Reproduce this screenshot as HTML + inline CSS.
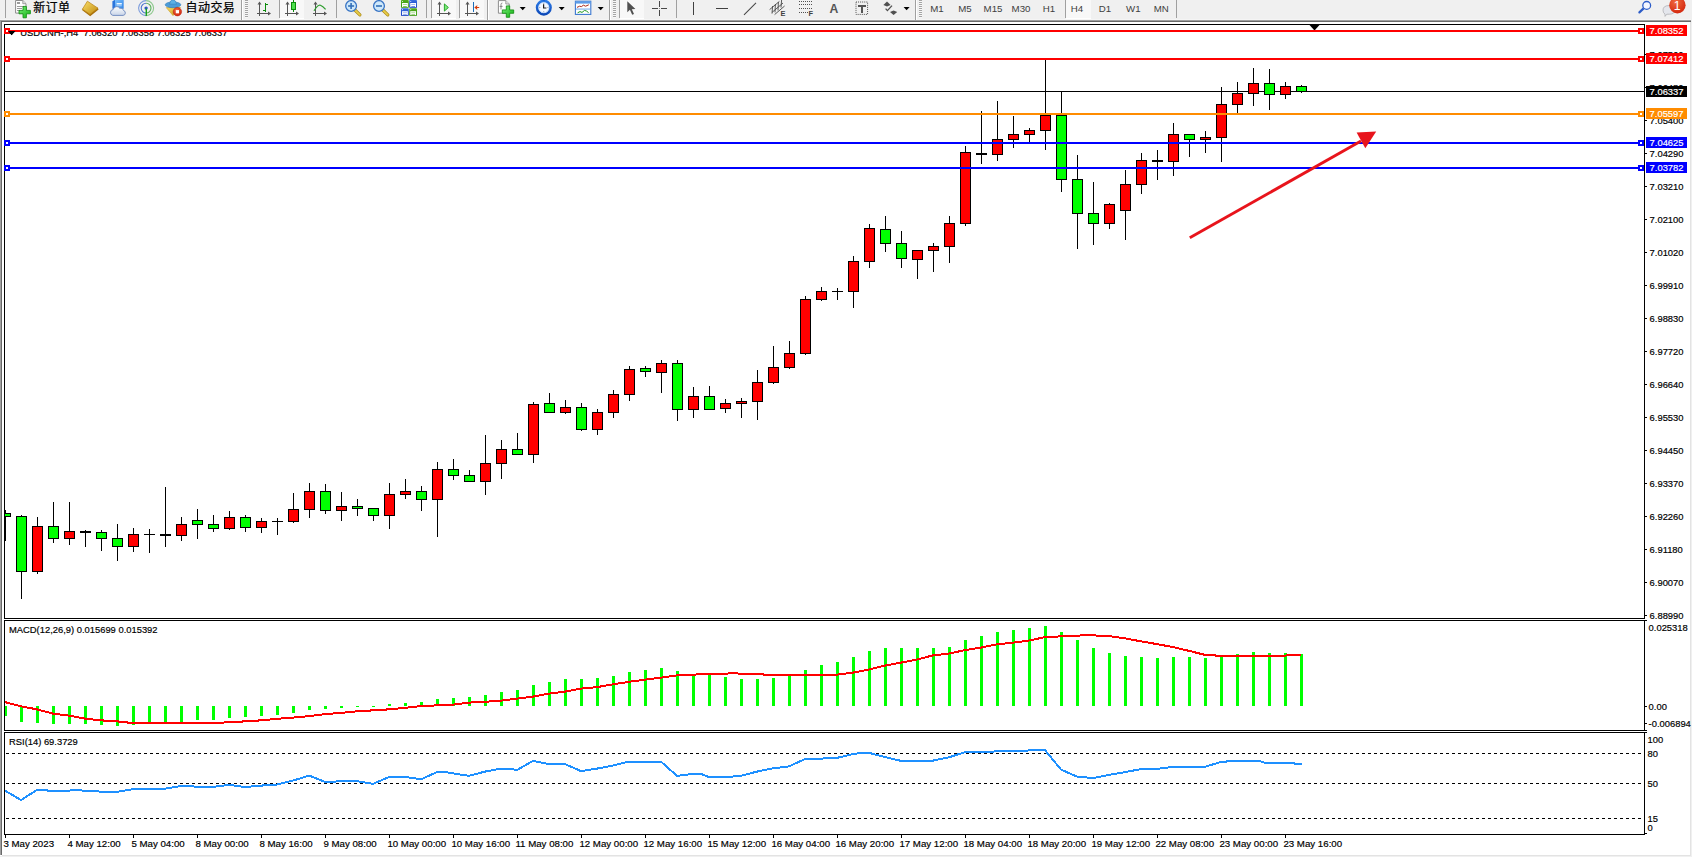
<!DOCTYPE html>
<html><head><meta charset="utf-8"><title>USDCNH-,H4</title>
<style>html,body{margin:0;padding:0;background:#fff;overflow:hidden}body{width:1692px;height:857px;position:relative}svg{position:absolute;left:0;top:0;display:block}text{font-family:'Liberation Sans','Noto Sans CJK SC',sans-serif;}.ax{font-size:9.4px;fill:#000;stroke:#000;stroke-width:0.18px}.lb{font-size:9.4px;fill:#fff;stroke:#fff;stroke-width:0.18px}.dt{font-size:9.7px;fill:#000;stroke:#000;stroke-width:0.18px}.tf{font-size:9.7px;fill:#404040}.cj{font-size:12px;fill:#000;letter-spacing:0.4px;stroke:#000;stroke-width:0.22px}</style></head><body>
<svg width="1692" height="857" viewBox="0 0 1692 857">
<g shape-rendering="crispEdges">
<rect x="0" y="0" width="1692" height="857" fill="#FFFFFF"/>
<rect x="0" y="0" width="1692" height="20" fill="#F0F0F0"/>
<rect x="0" y="19" width="1691" height="1" fill="#F5F5F5"/>
<rect x="0" y="20" width="1691" height="1" fill="#A0A0A0"/>
<rect x="0" y="21" width="1691" height="1" fill="#696969"/>
<rect x="0" y="21" width="1" height="834" fill="#A0A0A0"/>
<rect x="1" y="22" width="1" height="833" fill="#696969"/>
<rect x="1690" y="22" width="1" height="834" fill="#E3E3E3"/>
<rect x="1691" y="0" width="1" height="857" fill="#F0F0F0"/>
<rect x="2" y="855" width="1689" height="1" fill="#E3E3E3"/>
<rect x="0" y="856" width="1692" height="1" fill="#F0F0F0"/>
<rect x="4" y="24" width="1641" height="1" fill="#000"/>
<rect x="4" y="24" width="1" height="811" fill="#000"/>
<rect x="1644" y="24" width="1" height="811" fill="#000"/>
<rect x="4" y="618" width="1641" height="1" fill="#000"/>
<rect x="4" y="619" width="1641" height="1" fill="#FFF"/>
<rect x="4" y="620" width="1641" height="1" fill="#000"/>
<rect x="4" y="730" width="1641" height="1" fill="#000"/>
<rect x="4" y="731" width="1641" height="1" fill="#FFF"/>
<rect x="4" y="732" width="1641" height="1" fill="#000"/>
<rect x="4" y="834" width="1641" height="1" fill="#000"/>
</g>
<defs><clipPath id="cm"><rect x="5" y="25" width="1639" height="593"/></clipPath><clipPath id="cd"><rect x="5" y="621" width="1639" height="109"/></clipPath><clipPath id="cr"><rect x="5" y="733" width="1639" height="101"/></clipPath></defs>
<g shape-rendering="crispEdges" clip-path="url(#cm)">
<rect x="5" y="91" width="1639" height="1" fill="#000"/>
<polygon points="8,31 15,31 11.5,35" fill="#000"/>
<rect x="5" y="510" width="1" height="31" fill="#000"/>
<rect x="0" y="513" width="11" height="4" fill="#000"/>
<rect x="1" y="514" width="9" height="2" fill="#00FF00"/>
<rect x="21" y="515" width="1" height="84" fill="#000"/>
<rect x="16" y="516" width="11" height="56" fill="#000"/>
<rect x="17" y="517" width="9" height="54" fill="#00FF00"/>
<rect x="37" y="517" width="1" height="57" fill="#000"/>
<rect x="32" y="526" width="11" height="46" fill="#000"/>
<rect x="33" y="527" width="9" height="44" fill="#FF0000"/>
<rect x="53" y="502" width="1" height="41" fill="#000"/>
<rect x="48" y="526" width="11" height="13" fill="#000"/>
<rect x="49" y="527" width="9" height="11" fill="#00FF00"/>
<rect x="69" y="502" width="1" height="43" fill="#000"/>
<rect x="64" y="531" width="11" height="8" fill="#000"/>
<rect x="65" y="532" width="9" height="6" fill="#FF0000"/>
<rect x="85" y="530" width="1" height="17" fill="#000"/>
<rect x="80" y="531" width="11" height="2" fill="#000"/>
<rect x="101" y="530" width="1" height="21" fill="#000"/>
<rect x="96" y="532" width="11" height="7" fill="#000"/>
<rect x="97" y="533" width="9" height="5" fill="#00FF00"/>
<rect x="117" y="524" width="1" height="37" fill="#000"/>
<rect x="112" y="538" width="11" height="9" fill="#000"/>
<rect x="113" y="539" width="9" height="7" fill="#00FF00"/>
<rect x="133" y="528" width="1" height="24" fill="#000"/>
<rect x="128" y="534" width="11" height="13" fill="#000"/>
<rect x="129" y="535" width="9" height="11" fill="#FF0000"/>
<rect x="149" y="529" width="1" height="24" fill="#000"/>
<rect x="144" y="534" width="11" height="1" fill="#000"/>
<rect x="165" y="487" width="1" height="60" fill="#000"/>
<rect x="160" y="534" width="11" height="2" fill="#000"/>
<rect x="181" y="517" width="1" height="24" fill="#000"/>
<rect x="176" y="524" width="11" height="12" fill="#000"/>
<rect x="177" y="525" width="9" height="10" fill="#FF0000"/>
<rect x="197" y="509" width="1" height="30" fill="#000"/>
<rect x="192" y="520" width="11" height="5" fill="#000"/>
<rect x="193" y="521" width="9" height="3" fill="#00FF00"/>
<rect x="213" y="515" width="1" height="17" fill="#000"/>
<rect x="208" y="524" width="11" height="5" fill="#000"/>
<rect x="209" y="525" width="9" height="3" fill="#00FF00"/>
<rect x="229" y="511" width="1" height="19" fill="#000"/>
<rect x="224" y="517" width="11" height="12" fill="#000"/>
<rect x="225" y="518" width="9" height="10" fill="#FF0000"/>
<rect x="245" y="515" width="1" height="17" fill="#000"/>
<rect x="240" y="517" width="11" height="11" fill="#000"/>
<rect x="241" y="518" width="9" height="9" fill="#00FF00"/>
<rect x="261" y="518" width="1" height="15" fill="#000"/>
<rect x="256" y="521" width="11" height="7" fill="#000"/>
<rect x="257" y="522" width="9" height="5" fill="#FF0000"/>
<rect x="277" y="518" width="1" height="17" fill="#000"/>
<rect x="272" y="521" width="11" height="1" fill="#000"/>
<rect x="293" y="493" width="1" height="30" fill="#000"/>
<rect x="288" y="509" width="11" height="13" fill="#000"/>
<rect x="289" y="510" width="9" height="11" fill="#FF0000"/>
<rect x="309" y="483" width="1" height="35" fill="#000"/>
<rect x="304" y="491" width="11" height="19" fill="#000"/>
<rect x="305" y="492" width="9" height="17" fill="#FF0000"/>
<rect x="325" y="484" width="1" height="30" fill="#000"/>
<rect x="320" y="491" width="11" height="20" fill="#000"/>
<rect x="321" y="492" width="9" height="18" fill="#00FF00"/>
<rect x="341" y="492" width="1" height="29" fill="#000"/>
<rect x="336" y="506" width="11" height="5" fill="#000"/>
<rect x="337" y="507" width="9" height="3" fill="#FF0000"/>
<rect x="357" y="499" width="1" height="17" fill="#000"/>
<rect x="352" y="506" width="11" height="3" fill="#000"/>
<rect x="353" y="507" width="9" height="1" fill="#00FF00"/>
<rect x="373" y="508" width="1" height="13" fill="#000"/>
<rect x="368" y="508" width="11" height="8" fill="#000"/>
<rect x="369" y="509" width="9" height="6" fill="#00FF00"/>
<rect x="389" y="483" width="1" height="46" fill="#000"/>
<rect x="384" y="494" width="11" height="22" fill="#000"/>
<rect x="385" y="495" width="9" height="20" fill="#FF0000"/>
<rect x="405" y="479" width="1" height="20" fill="#000"/>
<rect x="400" y="491" width="11" height="4" fill="#000"/>
<rect x="401" y="492" width="9" height="2" fill="#FF0000"/>
<rect x="421" y="486" width="1" height="25" fill="#000"/>
<rect x="416" y="491" width="11" height="9" fill="#000"/>
<rect x="417" y="492" width="9" height="7" fill="#00FF00"/>
<rect x="437" y="462" width="1" height="75" fill="#000"/>
<rect x="432" y="469" width="11" height="31" fill="#000"/>
<rect x="433" y="470" width="9" height="29" fill="#FF0000"/>
<rect x="453" y="459" width="1" height="21" fill="#000"/>
<rect x="448" y="469" width="11" height="7" fill="#000"/>
<rect x="449" y="470" width="9" height="5" fill="#00FF00"/>
<rect x="469" y="470" width="1" height="12" fill="#000"/>
<rect x="464" y="475" width="11" height="7" fill="#000"/>
<rect x="465" y="476" width="9" height="5" fill="#00FF00"/>
<rect x="485" y="435" width="1" height="60" fill="#000"/>
<rect x="480" y="463" width="11" height="19" fill="#000"/>
<rect x="481" y="464" width="9" height="17" fill="#FF0000"/>
<rect x="501" y="440" width="1" height="39" fill="#000"/>
<rect x="496" y="449" width="11" height="15" fill="#000"/>
<rect x="497" y="450" width="9" height="13" fill="#FF0000"/>
<rect x="517" y="433" width="1" height="22" fill="#000"/>
<rect x="512" y="449" width="11" height="6" fill="#000"/>
<rect x="513" y="450" width="9" height="4" fill="#00FF00"/>
<rect x="533" y="402" width="1" height="61" fill="#000"/>
<rect x="528" y="404" width="11" height="51" fill="#000"/>
<rect x="529" y="405" width="9" height="49" fill="#FF0000"/>
<rect x="549" y="393" width="1" height="20" fill="#000"/>
<rect x="544" y="403" width="11" height="10" fill="#000"/>
<rect x="545" y="404" width="9" height="8" fill="#00FF00"/>
<rect x="565" y="400" width="1" height="14" fill="#000"/>
<rect x="560" y="407" width="11" height="6" fill="#000"/>
<rect x="561" y="408" width="9" height="4" fill="#FF0000"/>
<rect x="581" y="403" width="1" height="28" fill="#000"/>
<rect x="576" y="407" width="11" height="23" fill="#000"/>
<rect x="577" y="408" width="9" height="21" fill="#00FF00"/>
<rect x="597" y="409" width="1" height="26" fill="#000"/>
<rect x="592" y="412" width="11" height="18" fill="#000"/>
<rect x="593" y="413" width="9" height="16" fill="#FF0000"/>
<rect x="613" y="390" width="1" height="28" fill="#000"/>
<rect x="608" y="394" width="11" height="19" fill="#000"/>
<rect x="609" y="395" width="9" height="17" fill="#FF0000"/>
<rect x="629" y="366" width="1" height="35" fill="#000"/>
<rect x="624" y="369" width="11" height="26" fill="#000"/>
<rect x="625" y="370" width="9" height="24" fill="#FF0000"/>
<rect x="645" y="366" width="1" height="11" fill="#000"/>
<rect x="640" y="368" width="11" height="4" fill="#000"/>
<rect x="641" y="369" width="9" height="2" fill="#00FF00"/>
<rect x="661" y="360" width="1" height="33" fill="#000"/>
<rect x="656" y="363" width="11" height="10" fill="#000"/>
<rect x="657" y="364" width="9" height="8" fill="#FF0000"/>
<rect x="677" y="360" width="1" height="61" fill="#000"/>
<rect x="672" y="363" width="11" height="47" fill="#000"/>
<rect x="673" y="364" width="9" height="45" fill="#00FF00"/>
<rect x="693" y="387" width="1" height="31" fill="#000"/>
<rect x="688" y="396" width="11" height="14" fill="#000"/>
<rect x="689" y="397" width="9" height="12" fill="#FF0000"/>
<rect x="709" y="386" width="1" height="24" fill="#000"/>
<rect x="704" y="396" width="11" height="14" fill="#000"/>
<rect x="705" y="397" width="9" height="12" fill="#00FF00"/>
<rect x="725" y="399" width="1" height="14" fill="#000"/>
<rect x="720" y="403" width="11" height="6" fill="#000"/>
<rect x="721" y="404" width="9" height="4" fill="#FF0000"/>
<rect x="741" y="398" width="1" height="20" fill="#000"/>
<rect x="736" y="401" width="11" height="3" fill="#000"/>
<rect x="737" y="402" width="9" height="1" fill="#FF0000"/>
<rect x="757" y="370" width="1" height="50" fill="#000"/>
<rect x="752" y="382" width="11" height="20" fill="#000"/>
<rect x="753" y="383" width="9" height="18" fill="#FF0000"/>
<rect x="773" y="346" width="1" height="38" fill="#000"/>
<rect x="768" y="367" width="11" height="16" fill="#000"/>
<rect x="769" y="368" width="9" height="14" fill="#FF0000"/>
<rect x="789" y="341" width="1" height="28" fill="#000"/>
<rect x="784" y="353" width="11" height="15" fill="#000"/>
<rect x="785" y="354" width="9" height="13" fill="#FF0000"/>
<rect x="805" y="296" width="1" height="59" fill="#000"/>
<rect x="800" y="299" width="11" height="55" fill="#000"/>
<rect x="801" y="300" width="9" height="53" fill="#FF0000"/>
<rect x="821" y="287" width="1" height="14" fill="#000"/>
<rect x="816" y="291" width="11" height="9" fill="#000"/>
<rect x="817" y="292" width="9" height="7" fill="#FF0000"/>
<rect x="837" y="288" width="1" height="12" fill="#000"/>
<rect x="832" y="291" width="11" height="1" fill="#000"/>
<rect x="853" y="256" width="1" height="52" fill="#000"/>
<rect x="848" y="261" width="11" height="31" fill="#000"/>
<rect x="849" y="262" width="9" height="29" fill="#FF0000"/>
<rect x="869" y="224" width="1" height="44" fill="#000"/>
<rect x="864" y="228" width="11" height="34" fill="#000"/>
<rect x="865" y="229" width="9" height="32" fill="#FF0000"/>
<rect x="885" y="216" width="1" height="36" fill="#000"/>
<rect x="880" y="229" width="11" height="15" fill="#000"/>
<rect x="881" y="230" width="9" height="13" fill="#00FF00"/>
<rect x="901" y="231" width="1" height="37" fill="#000"/>
<rect x="896" y="243" width="11" height="16" fill="#000"/>
<rect x="897" y="244" width="9" height="14" fill="#00FF00"/>
<rect x="917" y="250" width="1" height="29" fill="#000"/>
<rect x="912" y="250" width="11" height="10" fill="#000"/>
<rect x="913" y="251" width="9" height="8" fill="#FF0000"/>
<rect x="933" y="243" width="1" height="29" fill="#000"/>
<rect x="928" y="246" width="11" height="5" fill="#000"/>
<rect x="929" y="247" width="9" height="3" fill="#FF0000"/>
<rect x="949" y="216" width="1" height="47" fill="#000"/>
<rect x="944" y="223" width="11" height="24" fill="#000"/>
<rect x="945" y="224" width="9" height="22" fill="#FF0000"/>
<rect x="965" y="146" width="1" height="80" fill="#000"/>
<rect x="960" y="152" width="11" height="72" fill="#000"/>
<rect x="961" y="153" width="9" height="70" fill="#FF0000"/>
<rect x="981" y="111" width="1" height="53" fill="#000"/>
<rect x="976" y="153" width="11" height="2" fill="#000"/>
<rect x="997" y="101" width="1" height="60" fill="#000"/>
<rect x="992" y="139" width="11" height="16" fill="#000"/>
<rect x="993" y="140" width="9" height="14" fill="#FF0000"/>
<rect x="1013" y="116" width="1" height="32" fill="#000"/>
<rect x="1008" y="134" width="11" height="6" fill="#000"/>
<rect x="1009" y="135" width="9" height="4" fill="#FF0000"/>
<rect x="1029" y="128" width="1" height="14" fill="#000"/>
<rect x="1024" y="130" width="11" height="5" fill="#000"/>
<rect x="1025" y="131" width="9" height="3" fill="#FF0000"/>
<rect x="1045" y="60" width="1" height="90" fill="#000"/>
<rect x="1040" y="115" width="11" height="16" fill="#000"/>
<rect x="1041" y="116" width="9" height="14" fill="#FF0000"/>
<rect x="1061" y="92" width="1" height="100" fill="#000"/>
<rect x="1056" y="115" width="11" height="65" fill="#000"/>
<rect x="1057" y="116" width="9" height="63" fill="#00FF00"/>
<rect x="1077" y="155" width="1" height="94" fill="#000"/>
<rect x="1072" y="179" width="11" height="35" fill="#000"/>
<rect x="1073" y="180" width="9" height="33" fill="#00FF00"/>
<rect x="1093" y="182" width="1" height="63" fill="#000"/>
<rect x="1088" y="213" width="11" height="11" fill="#000"/>
<rect x="1089" y="214" width="9" height="9" fill="#00FF00"/>
<rect x="1109" y="203" width="1" height="26" fill="#000"/>
<rect x="1104" y="204" width="11" height="20" fill="#000"/>
<rect x="1105" y="205" width="9" height="18" fill="#FF0000"/>
<rect x="1125" y="170" width="1" height="70" fill="#000"/>
<rect x="1120" y="184" width="11" height="27" fill="#000"/>
<rect x="1121" y="185" width="9" height="25" fill="#FF0000"/>
<rect x="1141" y="153" width="1" height="41" fill="#000"/>
<rect x="1136" y="160" width="11" height="25" fill="#000"/>
<rect x="1137" y="161" width="9" height="23" fill="#FF0000"/>
<rect x="1157" y="150" width="1" height="30" fill="#000"/>
<rect x="1152" y="160" width="11" height="2" fill="#000"/>
<rect x="1173" y="123" width="1" height="53" fill="#000"/>
<rect x="1168" y="134" width="11" height="28" fill="#000"/>
<rect x="1169" y="135" width="9" height="26" fill="#FF0000"/>
<rect x="1189" y="134" width="1" height="23" fill="#000"/>
<rect x="1184" y="134" width="11" height="6" fill="#000"/>
<rect x="1185" y="135" width="9" height="4" fill="#00FF00"/>
<rect x="1205" y="131" width="1" height="22" fill="#000"/>
<rect x="1200" y="137" width="11" height="3" fill="#000"/>
<rect x="1201" y="138" width="9" height="1" fill="#FF0000"/>
<rect x="1221" y="87" width="1" height="75" fill="#000"/>
<rect x="1216" y="104" width="11" height="34" fill="#000"/>
<rect x="1217" y="105" width="9" height="32" fill="#FF0000"/>
<rect x="1237" y="82" width="1" height="31" fill="#000"/>
<rect x="1232" y="93" width="11" height="12" fill="#000"/>
<rect x="1233" y="94" width="9" height="10" fill="#FF0000"/>
<rect x="1253" y="68" width="1" height="38" fill="#000"/>
<rect x="1248" y="83" width="11" height="11" fill="#000"/>
<rect x="1249" y="84" width="9" height="9" fill="#FF0000"/>
<rect x="1269" y="69" width="1" height="41" fill="#000"/>
<rect x="1264" y="83" width="11" height="12" fill="#000"/>
<rect x="1265" y="84" width="9" height="10" fill="#00FF00"/>
<rect x="1285" y="82" width="1" height="17" fill="#000"/>
<rect x="1280" y="86" width="11" height="9" fill="#000"/>
<rect x="1281" y="87" width="9" height="7" fill="#FF0000"/>
<rect x="1301" y="85" width="1" height="8" fill="#000"/>
<rect x="1296" y="86" width="11" height="6" fill="#000"/>
<rect x="1297" y="87" width="9" height="4" fill="#00FF00"/>
</g>
<polygon points="1309.5,25 1319.5,25 1314.5,30.5" fill="#000"/>
<g shape-rendering="crispEdges">
<rect x="5" y="30" width="1639" height="2" fill="#FF0000"/>
<rect x="4" y="28" width="6" height="6" fill="#FF0000"/>
<rect x="6" y="30" width="2" height="2" fill="#FFF"/>
<rect x="1638" y="28" width="6" height="6" fill="#FF0000"/>
<rect x="1640" y="30" width="2" height="2" fill="#FFF"/>
<rect x="5" y="58" width="1639" height="2" fill="#FF0000"/>
<rect x="4" y="56" width="6" height="6" fill="#FF0000"/>
<rect x="6" y="58" width="2" height="2" fill="#FFF"/>
<rect x="1638" y="56" width="6" height="6" fill="#FF0000"/>
<rect x="1640" y="58" width="2" height="2" fill="#FFF"/>
<rect x="5" y="113" width="1639" height="2" fill="#FF8C00"/>
<rect x="4" y="111" width="6" height="6" fill="#FF8C00"/>
<rect x="6" y="113" width="2" height="2" fill="#FFF"/>
<rect x="1638" y="111" width="6" height="6" fill="#FF8C00"/>
<rect x="1640" y="113" width="2" height="2" fill="#FFF"/>
<rect x="5" y="142" width="1639" height="2" fill="#0000FF"/>
<rect x="4" y="140" width="6" height="6" fill="#0000FF"/>
<rect x="6" y="142" width="2" height="2" fill="#FFF"/>
<rect x="1638" y="140" width="6" height="6" fill="#0000FF"/>
<rect x="1640" y="142" width="2" height="2" fill="#FFF"/>
<rect x="5" y="167" width="1639" height="2" fill="#0000FF"/>
<rect x="4" y="165" width="6" height="6" fill="#0000FF"/>
<rect x="6" y="167" width="2" height="2" fill="#FFF"/>
<rect x="1638" y="165" width="6" height="6" fill="#0000FF"/>
<rect x="1640" y="167" width="2" height="2" fill="#FFF"/>
</g>
<text x="20.3" y="35.7" style="font-size:9.42px;fill:#000;stroke:#000;stroke-width:0.18px">USDCNH-,H4&#160;&#160;7.06320 7.06358 7.06325 7.06337</text>
<rect x="10" y="30" width="230" height="2" fill="#FF0000" shape-rendering="crispEdges"/>
<polygon points="8,31 15.5,31 11.7,35.3" fill="#000"/>
<g><line x1="1189.8" y1="237.8" x2="1361" y2="141.1" stroke="#E8141C" stroke-width="2.9"/><polygon points="1376.2,131.6 1356.6,132.6 1365.3,148.3" fill="#E8141C"/></g>
<g shape-rendering="crispEdges">
<rect x="1645" y="54" width="2" height="1" fill="#000"/>
<rect x="1645" y="87" width="2" height="1" fill="#000"/>
<rect x="1645" y="120" width="2" height="1" fill="#000"/>
<rect x="1645" y="153" width="2" height="1" fill="#000"/>
<rect x="1645" y="186" width="2" height="1" fill="#000"/>
<rect x="1645" y="219" width="2" height="1" fill="#000"/>
<rect x="1645" y="252" width="2" height="1" fill="#000"/>
<rect x="1645" y="285" width="2" height="1" fill="#000"/>
<rect x="1645" y="318" width="2" height="1" fill="#000"/>
<rect x="1645" y="351" width="2" height="1" fill="#000"/>
<rect x="1645" y="384" width="2" height="1" fill="#000"/>
<rect x="1645" y="417" width="2" height="1" fill="#000"/>
<rect x="1645" y="450" width="2" height="1" fill="#000"/>
<rect x="1645" y="483" width="2" height="1" fill="#000"/>
<rect x="1645" y="516" width="2" height="1" fill="#000"/>
<rect x="1645" y="549" width="2" height="1" fill="#000"/>
<rect x="1645" y="582" width="2" height="1" fill="#000"/>
<rect x="1645" y="615" width="2" height="1" fill="#000"/>
</g>
<text class="ax" x="1649.6" y="58">7.07560</text>
<text class="ax" x="1649.6" y="91">7.06480</text>
<text class="ax" x="1649.6" y="124">7.05400</text>
<text class="ax" x="1649.6" y="157">7.04290</text>
<text class="ax" x="1649.6" y="190">7.03210</text>
<text class="ax" x="1649.6" y="223">7.02100</text>
<text class="ax" x="1649.6" y="256">7.01020</text>
<text class="ax" x="1649.6" y="289">6.99910</text>
<text class="ax" x="1649.6" y="322">6.98830</text>
<text class="ax" x="1649.6" y="355">6.97720</text>
<text class="ax" x="1649.6" y="388">6.96640</text>
<text class="ax" x="1649.6" y="421">6.95530</text>
<text class="ax" x="1649.6" y="454">6.94450</text>
<text class="ax" x="1649.6" y="487">6.93370</text>
<text class="ax" x="1649.6" y="520">6.92260</text>
<text class="ax" x="1649.6" y="553">6.91180</text>
<text class="ax" x="1649.6" y="586">6.90070</text>
<text class="ax" x="1649.6" y="619">6.88990</text>
<rect x="1646" y="25" width="41" height="11" fill="#FF0000" shape-rendering="crispEdges"/>
<text class="lb" x="1649.6" y="34">7.08352</text>
<rect x="1646" y="53" width="41" height="11" fill="#FF0000" shape-rendering="crispEdges"/>
<text class="lb" x="1649.6" y="62">7.07412</text>
<rect x="1646" y="86" width="41" height="11" fill="#000000" shape-rendering="crispEdges"/>
<text class="lb" x="1649.6" y="95">7.06337</text>
<rect x="1646" y="108" width="41" height="11" fill="#FF8C00" shape-rendering="crispEdges"/>
<text class="lb" x="1649.6" y="117">7.05597</text>
<rect x="1646" y="137" width="41" height="11" fill="#0000FF" shape-rendering="crispEdges"/>
<text class="lb" x="1649.6" y="146">7.04625</text>
<rect x="1646" y="162" width="41" height="11" fill="#0000FF" shape-rendering="crispEdges"/>
<text class="lb" x="1649.6" y="171">7.03782</text>
<g shape-rendering="crispEdges" clip-path="url(#cd)">
<rect x="4" y="706" width="3" height="10" fill="#00FF00"/>
<rect x="20" y="706" width="3" height="16" fill="#00FF00"/>
<rect x="36" y="706" width="3" height="17" fill="#00FF00"/>
<rect x="52" y="706" width="3" height="18" fill="#00FF00"/>
<rect x="68" y="706" width="3" height="18" fill="#00FF00"/>
<rect x="84" y="706" width="3" height="18" fill="#00FF00"/>
<rect x="100" y="706" width="3" height="19" fill="#00FF00"/>
<rect x="116" y="706" width="3" height="20" fill="#00FF00"/>
<rect x="132" y="706" width="3" height="19" fill="#00FF00"/>
<rect x="148" y="706" width="3" height="16" fill="#00FF00"/>
<rect x="164" y="706" width="3" height="16" fill="#00FF00"/>
<rect x="180" y="706" width="3" height="16" fill="#00FF00"/>
<rect x="196" y="706" width="3" height="14" fill="#00FF00"/>
<rect x="212" y="706" width="3" height="14" fill="#00FF00"/>
<rect x="228" y="706" width="3" height="12" fill="#00FF00"/>
<rect x="244" y="706" width="3" height="11" fill="#00FF00"/>
<rect x="260" y="706" width="3" height="10" fill="#00FF00"/>
<rect x="276" y="706" width="3" height="9" fill="#00FF00"/>
<rect x="292" y="706" width="3" height="7" fill="#00FF00"/>
<rect x="308" y="706" width="3" height="4" fill="#00FF00"/>
<rect x="324" y="706" width="3" height="3" fill="#00FF00"/>
<rect x="340" y="706" width="3" height="2" fill="#00FF00"/>
<rect x="356" y="706" width="3" height="1" fill="#00FF00"/>
<rect x="372" y="706" width="3" height="1" fill="#00FF00"/>
<rect x="388" y="704" width="3" height="2" fill="#00FF00"/>
<rect x="404" y="703" width="3" height="3" fill="#00FF00"/>
<rect x="420" y="702" width="3" height="4" fill="#00FF00"/>
<rect x="436" y="699" width="3" height="7" fill="#00FF00"/>
<rect x="452" y="698" width="3" height="8" fill="#00FF00"/>
<rect x="468" y="697" width="3" height="9" fill="#00FF00"/>
<rect x="484" y="695" width="3" height="11" fill="#00FF00"/>
<rect x="500" y="692" width="3" height="14" fill="#00FF00"/>
<rect x="516" y="690" width="3" height="16" fill="#00FF00"/>
<rect x="532" y="685" width="3" height="21" fill="#00FF00"/>
<rect x="548" y="682" width="3" height="24" fill="#00FF00"/>
<rect x="564" y="679" width="3" height="27" fill="#00FF00"/>
<rect x="580" y="679" width="3" height="27" fill="#00FF00"/>
<rect x="596" y="678" width="3" height="28" fill="#00FF00"/>
<rect x="612" y="676" width="3" height="30" fill="#00FF00"/>
<rect x="628" y="672" width="3" height="34" fill="#00FF00"/>
<rect x="644" y="670" width="3" height="36" fill="#00FF00"/>
<rect x="660" y="668" width="3" height="38" fill="#00FF00"/>
<rect x="676" y="671" width="3" height="35" fill="#00FF00"/>
<rect x="692" y="674" width="3" height="32" fill="#00FF00"/>
<rect x="708" y="675" width="3" height="31" fill="#00FF00"/>
<rect x="724" y="677" width="3" height="29" fill="#00FF00"/>
<rect x="740" y="679" width="3" height="27" fill="#00FF00"/>
<rect x="756" y="679" width="3" height="27" fill="#00FF00"/>
<rect x="772" y="678" width="3" height="28" fill="#00FF00"/>
<rect x="788" y="676" width="3" height="30" fill="#00FF00"/>
<rect x="804" y="670" width="3" height="36" fill="#00FF00"/>
<rect x="820" y="665" width="3" height="41" fill="#00FF00"/>
<rect x="836" y="662" width="3" height="44" fill="#00FF00"/>
<rect x="852" y="657" width="3" height="49" fill="#00FF00"/>
<rect x="868" y="651" width="3" height="55" fill="#00FF00"/>
<rect x="884" y="648" width="3" height="58" fill="#00FF00"/>
<rect x="900" y="648" width="3" height="58" fill="#00FF00"/>
<rect x="916" y="648" width="3" height="58" fill="#00FF00"/>
<rect x="932" y="648" width="3" height="58" fill="#00FF00"/>
<rect x="948" y="647" width="3" height="59" fill="#00FF00"/>
<rect x="964" y="640" width="3" height="66" fill="#00FF00"/>
<rect x="980" y="636" width="3" height="70" fill="#00FF00"/>
<rect x="996" y="632" width="3" height="74" fill="#00FF00"/>
<rect x="1012" y="630" width="3" height="76" fill="#00FF00"/>
<rect x="1028" y="628" width="3" height="78" fill="#00FF00"/>
<rect x="1044" y="626" width="3" height="80" fill="#00FF00"/>
<rect x="1060" y="632" width="3" height="74" fill="#00FF00"/>
<rect x="1076" y="640" width="3" height="66" fill="#00FF00"/>
<rect x="1092" y="648" width="3" height="58" fill="#00FF00"/>
<rect x="1108" y="653" width="3" height="53" fill="#00FF00"/>
<rect x="1124" y="656" width="3" height="50" fill="#00FF00"/>
<rect x="1140" y="657" width="3" height="49" fill="#00FF00"/>
<rect x="1156" y="658" width="3" height="48" fill="#00FF00"/>
<rect x="1172" y="657" width="3" height="49" fill="#00FF00"/>
<rect x="1188" y="657" width="3" height="49" fill="#00FF00"/>
<rect x="1204" y="658" width="3" height="48" fill="#00FF00"/>
<rect x="1220" y="656" width="3" height="50" fill="#00FF00"/>
<rect x="1236" y="654" width="3" height="52" fill="#00FF00"/>
<rect x="1252" y="652" width="3" height="54" fill="#00FF00"/>
<rect x="1268" y="653" width="3" height="53" fill="#00FF00"/>
<rect x="1284" y="653" width="3" height="53" fill="#00FF00"/>
<rect x="1300" y="654" width="3" height="52" fill="#00FF00"/>
<polyline points="5,702.10 21,706.35 37,709.35 53,713.60 69,715.60 85,718.60 101,720.35 117,721.35 133,723.10 149,723.10 165,723.10 181,723.10 197,723.10 213,722.85 229,722.35 245,721.35 261,720.35 277,718.85 293,717.60 309,716.10 325,714.10 341,712.85 357,711.35 373,710.35 389,709.35 405,707.85 421,706.10 437,705.35 453,704.60 469,702.60 485,701.85 501,700.60 517,698.60 533,696.60 549,693.60 565,691.60 581,688.60 597,687.10 613,684.35 629,681.85 645,679.60 661,677.60 677,675.35 693,674.60 709,674.10 725,673.85 733,672.85 741,673.85 757,674.10 773,675.10 789,675.10 805,675.10 821,675.10 837,674.60 853,672.60 869,669.60 885,665.60 901,662.60 917,659.60 933,655.35 949,653.60 965,650.10 981,647.60 997,644.35 1013,642.60 1029,640.60 1045,637.10 1061,636.35 1077,635.85 1085,634.85 1093,635.35 1109,636.10 1125,638.35 1141,641.35 1157,644.10 1173,647.10 1189,650.85 1205,654.85 1221,655.85 1237,655.85 1253,655.85 1269,656.10 1285,656.10 1287,654.70 1301,654.70" fill="none" stroke="#FF0000" stroke-width="2" stroke-linejoin="round"/>
</g>
<text x="9" y="633" class="ax">MACD(12,26,9) 0.015699 0.015392</text>
<g shape-rendering="crispEdges">
<rect x="1645" y="620" width="2" height="1" fill="#000"/>
<rect x="1645" y="706" width="2" height="1" fill="#000"/>
<rect x="1645" y="723" width="2" height="1" fill="#000"/>
<rect x="1645" y="730" width="2" height="1" fill="#000"/>
</g>
<text class="ax" x="1648.6" y="631">0.025318</text>
<text class="ax" x="1648.6" y="710">0.00</text>
<text class="ax" x="1648.6" y="727">-0.006894</text>
<g shape-rendering="crispEdges" clip-path="url(#cr)">
<line x1="6" y1="753.5" x2="1644" y2="753.5" stroke="#000" stroke-width="1" stroke-dasharray="3 3"/>
<line x1="6" y1="783.5" x2="1644" y2="783.5" stroke="#000" stroke-width="1" stroke-dasharray="3 3"/>
<line x1="6" y1="818.5" x2="1644" y2="818.5" stroke="#000" stroke-width="1" stroke-dasharray="3 3"/>
<polyline points="5,790.60 21,800.10 37,789.85 53,790.85 69,790.60 77,789.85 85,790.85 101,791.60 117,791.85 133,789.10 149,788.60 165,788.60 181,786.10 189,785.85 197,786.85 213,786.85 229,784.85 245,787.10 261,785.60 277,784.60 293,780.60 309,775.60 325,781.85 341,781.35 357,781.10 373,783.85 389,777.10 405,776.85 421,779.35 437,772.10 445,772.10 453,773.35 469,775.85 485,771.60 501,768.60 509,768.60 517,770.10 533,760.85 549,764.10 565,764.10 581,771.10 597,768.60 613,765.60 629,761.60 645,761.60 661,761.60 677,775.85 693,773.85 701,773.85 709,777.10 725,777.10 741,775.85 757,771.60 773,768.35 789,766.35 805,759.10 821,758.60 837,757.85 853,754.10 861,752.85 869,752.85 885,757.10 901,760.85 917,760.85 933,760.60 949,757.35 965,752.10 981,752.10 997,751.35 1013,751.10 1027,751.10 1029,750.10 1045,750.10 1061,769.60 1077,776.60 1093,778.10 1109,774.85 1125,772.10 1141,769.10 1157,768.85 1173,766.85 1189,766.85 1205,766.85 1221,761.85 1237,760.85 1253,760.85 1259,760.85 1265,762.80 1293,762.80 1295,763.90 1302,763.90" fill="none" stroke="#1E90FF" stroke-width="2" stroke-linejoin="round"/>
</g>
<text x="9" y="745" class="ax">RSI(14) 69.3729</text>
<g shape-rendering="crispEdges">
<rect x="1645" y="732" width="2" height="1" fill="#000"/>
<rect x="1645" y="833" width="2" height="1" fill="#000"/>
</g>
<text class="ax" x="1647.6" y="743">100</text>
<text class="ax" x="1647.6" y="757">80</text>
<text class="ax" x="1647.6" y="787">50</text>
<text class="ax" x="1647.6" y="822">15</text>
<text class="ax" x="1647.6" y="831">0</text>
<g shape-rendering="crispEdges">
<rect x="5" y="835" width="1" height="3" fill="#000"/>
<rect x="69" y="835" width="1" height="3" fill="#000"/>
<rect x="133" y="835" width="1" height="3" fill="#000"/>
<rect x="197" y="835" width="1" height="3" fill="#000"/>
<rect x="261" y="835" width="1" height="3" fill="#000"/>
<rect x="325" y="835" width="1" height="3" fill="#000"/>
<rect x="389" y="835" width="1" height="3" fill="#000"/>
<rect x="453" y="835" width="1" height="3" fill="#000"/>
<rect x="517" y="835" width="1" height="3" fill="#000"/>
<rect x="581" y="835" width="1" height="3" fill="#000"/>
<rect x="645" y="835" width="1" height="3" fill="#000"/>
<rect x="709" y="835" width="1" height="3" fill="#000"/>
<rect x="773" y="835" width="1" height="3" fill="#000"/>
<rect x="837" y="835" width="1" height="3" fill="#000"/>
<rect x="901" y="835" width="1" height="3" fill="#000"/>
<rect x="965" y="835" width="1" height="3" fill="#000"/>
<rect x="1029" y="835" width="1" height="3" fill="#000"/>
<rect x="1093" y="835" width="1" height="3" fill="#000"/>
<rect x="1157" y="835" width="1" height="3" fill="#000"/>
<rect x="1221" y="835" width="1" height="3" fill="#000"/>
<rect x="1285" y="835" width="1" height="3" fill="#000"/>
</g>
<text class="dt" x="3.4" y="847">3 May 2023</text>
<text class="dt" x="67.4" y="847">4 May 12:00</text>
<text class="dt" x="131.4" y="847">5 May 04:00</text>
<text class="dt" x="195.4" y="847">8 May 00:00</text>
<text class="dt" x="259.4" y="847">8 May 16:00</text>
<text class="dt" x="323.4" y="847">9 May 08:00</text>
<text class="dt" x="387.4" y="847">10 May 00:00</text>
<text class="dt" x="451.4" y="847">10 May 16:00</text>
<text class="dt" x="515.4" y="847">11 May 08:00</text>
<text class="dt" x="579.4" y="847">12 May 00:00</text>
<text class="dt" x="643.4" y="847">12 May 16:00</text>
<text class="dt" x="707.4" y="847">15 May 12:00</text>
<text class="dt" x="771.4" y="847">16 May 04:00</text>
<text class="dt" x="835.4" y="847">16 May 20:00</text>
<text class="dt" x="899.4" y="847">17 May 12:00</text>
<text class="dt" x="963.4" y="847">18 May 04:00</text>
<text class="dt" x="1027.4" y="847">18 May 20:00</text>
<text class="dt" x="1091.4" y="847">19 May 12:00</text>
<text class="dt" x="1155.4" y="847">22 May 08:00</text>
<text class="dt" x="1219.4" y="847">23 May 00:00</text>
<text class="dt" x="1283.4" y="847">23 May 16:00</text>
<defs><linearGradient id="gp" x1="0" y1="0" x2="1" y2="1"><stop offset="0" stop-color="#7CF07C"/><stop offset="1" stop-color="#10B010"/></linearGradient><linearGradient id="gy" x1="0" y1="0" x2="1" y2="1"><stop offset="0" stop-color="#FBE06A"/><stop offset="1" stop-color="#C08A10"/></linearGradient><linearGradient id="gb" x1="0" y1="0" x2="0" y2="1"><stop offset="0" stop-color="#3C70E0"/><stop offset="1" stop-color="#1038C0"/></linearGradient><linearGradient id="gg" x1="0" y1="0" x2="0" y2="1"><stop offset="0" stop-color="#52AC1C"/><stop offset="1" stop-color="#34980C"/></linearGradient><radialGradient id="grd" cx="0.4" cy="0.3" r="0.8"><stop offset="0" stop-color="#F06A40"/><stop offset="1" stop-color="#D02008"/></radialGradient><linearGradient id="gc" x1="0" y1="0" x2="0" y2="1"><stop offset="0" stop-color="#FFFFFF"/><stop offset="1" stop-color="#C8D4E8"/></linearGradient><linearGradient id="gs" x1="0" y1="0" x2="1" y2="1"><stop offset="0" stop-color="#7CC0FC"/><stop offset="1" stop-color="#2E84E8"/></linearGradient><linearGradient id="gk" x1="0" y1="0" x2="0" y2="1"><stop offset="0" stop-color="#2C7CE8"/><stop offset="1" stop-color="#0C48B8"/></linearGradient></defs>
<g id="toolbar">
<rect x="5" y="0" width="1" height="18" fill="#A0A0A0" shape-rendering="crispEdges"/>
<path d="M15.6,0.5 h7.2 l3.2,3.2 v9.4 h-10.4 z" fill="#FFFFFF" stroke="#8C8C8C" stroke-width="1"/><path d="M22.8,0.5 v3.2 h3.2" fill="#E4E4E4" stroke="#8C8C8C" stroke-width="0.8"/><g fill="#9A9A9A" shape-rendering="crispEdges"><rect x="17" y="2" width="3" height="2"/><rect x="17" y="6" width="7" height="1"/><rect x="17" y="8" width="5" height="1"/><rect x="17" y="10" width="3" height="1"/></g>
<polygon points="23.0,6.4 26.4,6.4 26.4,10.4 30.4,10.4 30.4,13.8 26.4,13.8 26.4,17.8 23.0,17.8 23.0,13.8 19.0,13.8 19.0,10.4 23.0,10.4" fill="url(#gp)" stroke="#0B8A0B" stroke-width="0.8"/>
<text class="cj" x="33.2" y="11.9">新订单</text>
<polygon points="82.0,10.0 90.2,16.2 98.6,9.4 97.6,7.6 89.8,13.6 83.0,8.6" fill="#A8700C"/><polygon points="87.4,1.2 98.0,8.2 90.0,14.4 82.4,9.2" fill="url(#gy)" stroke="#B88010" stroke-width="0.7" stroke-linejoin="round"/>
<path d="M112.4,1.2 l2.6,-1.4 h8.4 v9 h-11 z" fill="#2A74DC"/><path d="M115,-0.2 h8.4 v9 h-8.4 z" fill="url(#gs)"/><rect x="116.6" y="3" width="5.2" height="1.5" fill="#F0F8FF"/><rect x="116.6" y="5.4" width="5.2" height="0.8" fill="#BBDDFB"/><path d="M112.8,15.4 a3,3 0 0 1 0.4,-5.9 a3.6,3.6 0 0 1 6.6,-1.2 a2.8,2.8 0 0 1 3.7,2.2 a2.5,2.5 0 0 1 -0.4,4.9 z" fill="url(#gc)" stroke="#6A86BC" stroke-width="0.9"/>
<g fill="none" stroke-width="1.1"><path d="M146.1,0.6 a7.5,7.5 0 0 0 0,15" stroke="#7C9CDC"/><path d="M146.1,3.2 a4.9,4.9 0 0 0 0,9.8" stroke="#4C74D0"/><path d="M146.1,0.6 a7.5,7.5 0 0 1 0,15" stroke="#8CC88C"/><path d="M146.1,3.2 a4.9,4.9 0 0 1 0,9.8" stroke="#58B058"/></g><circle cx="146.1" cy="8.1" r="1.7" fill="#2C58C8"/><rect x="145.6" y="8.5" width="1.4" height="7.4" fill="#18A018"/>
<polygon points="166.3,7.6 180.6,7.6 173,15.6" fill="url(#gy)" stroke="#C89818" stroke-width="0.6"/><ellipse cx="173" cy="4.8" rx="7.8" ry="2.9" fill="#4C9CD8" stroke="#2C78B8" stroke-width="0.6"/><path d="M169.4,4.2 q0.6,-4.2 3.6,-4.6 q3,0.4 3.6,4.6 z" fill="#5CB0E4" stroke="#2C78B8" stroke-width="0.5"/><circle cx="177.4" cy="11.7" r="4.2" fill="url(#grd)" stroke="#B81808" stroke-width="0.5"/><rect x="175.8" y="10.1" width="3.2" height="3.2" fill="#FFFFFF"/>
<text class="cj" x="185.6" y="11.9">自动交易</text>
<rect x="241" y="0" width="1" height="20" fill="#A0A0A0" shape-rendering="crispEdges"/>
<rect x="242" y="0" width="1" height="20" fill="#FFFFFF" shape-rendering="crispEdges"/>
<rect x="245" y="0" width="3" height="1" fill="#A4A4A4" shape-rendering="crispEdges"/>
<rect x="245" y="1" width="3" height="1" fill="#F8F8F8" shape-rendering="crispEdges"/>
<rect x="245" y="2" width="3" height="1" fill="#A4A4A4" shape-rendering="crispEdges"/>
<rect x="245" y="3" width="3" height="1" fill="#F8F8F8" shape-rendering="crispEdges"/>
<rect x="245" y="4" width="3" height="1" fill="#A4A4A4" shape-rendering="crispEdges"/>
<rect x="245" y="5" width="3" height="1" fill="#F8F8F8" shape-rendering="crispEdges"/>
<rect x="245" y="6" width="3" height="1" fill="#A4A4A4" shape-rendering="crispEdges"/>
<rect x="245" y="7" width="3" height="1" fill="#F8F8F8" shape-rendering="crispEdges"/>
<rect x="245" y="8" width="3" height="1" fill="#A4A4A4" shape-rendering="crispEdges"/>
<rect x="245" y="9" width="3" height="1" fill="#F8F8F8" shape-rendering="crispEdges"/>
<rect x="245" y="10" width="3" height="1" fill="#A4A4A4" shape-rendering="crispEdges"/>
<rect x="245" y="11" width="3" height="1" fill="#F8F8F8" shape-rendering="crispEdges"/>
<rect x="245" y="12" width="3" height="1" fill="#A4A4A4" shape-rendering="crispEdges"/>
<rect x="245" y="13" width="3" height="1" fill="#F8F8F8" shape-rendering="crispEdges"/>
<rect x="245" y="14" width="3" height="1" fill="#A4A4A4" shape-rendering="crispEdges"/>
<rect x="245" y="15" width="3" height="1" fill="#F8F8F8" shape-rendering="crispEdges"/>
<rect x="245" y="16" width="3" height="1" fill="#A4A4A4" shape-rendering="crispEdges"/>
<rect x="245" y="17" width="3" height="1" fill="#F8F8F8" shape-rendering="crispEdges"/>
<g fill="#555" shape-rendering="crispEdges"><rect x="259" y="3" width="1" height="13"/><rect x="257" y="13" width="13" height="1"/></g><polygon points="259.5,1.5 257.5,4.5 261.5,4.5" fill="#555"/><polygon points="271,13.5 268,11.5 268,15.5" fill="#555"/>
<g fill="#0A8A0A" shape-rendering="crispEdges"><rect x="265" y="3" width="1" height="9"/><rect x="265" y="4" width="3" height="1"/><rect x="263" y="10" width="3" height="1"/></g>
<rect x="280" y="0" width="24" height="18" fill="#F8F8F8" shape-rendering="crispEdges"/>
<rect x="280" y="18" width="24" height="1" fill="#FFFFFF" shape-rendering="crispEdges"/>
<rect x="279" y="0" width="1" height="18" fill="#A0A0A0" shape-rendering="crispEdges"/>
<g fill="#555" shape-rendering="crispEdges"><rect x="287" y="3" width="1" height="13"/><rect x="285" y="13" width="13" height="1"/></g><polygon points="287.5,1.5 285.5,4.5 289.5,4.5" fill="#555"/><polygon points="299,13.5 296,11.5 296,15.5" fill="#555"/>
<rect x="293" y="0" width="1" height="12" fill="#0A8A0A" shape-rendering="crispEdges"/><rect x="291.5" y="2.5" width="4" height="7" fill="#4CE04C" stroke="#0A8A0A" stroke-width="1"/>
<g fill="#555" shape-rendering="crispEdges"><rect x="315" y="3" width="1" height="13"/><rect x="313" y="13" width="13" height="1"/></g><polygon points="315.5,1.5 313.5,4.5 317.5,4.5" fill="#555"/><polygon points="327,13.5 324,11.5 324,15.5" fill="#555"/>
<path d="M314,10.8 Q318,4.2 320.4,5.2 T325.6,9.4" fill="none" stroke="#2E9E2E" stroke-width="1.2"/>
<rect x="336" y="0" width="1" height="18" fill="#A0A0A0" shape-rendering="crispEdges"/>
<line x1="354.90000000000003" y1="10" x2="359.90000000000003" y2="14.8" stroke="#A88818" stroke-width="3.2" stroke-linecap="round"/><line x1="354.90000000000003" y1="10" x2="359.90000000000003" y2="14.8" stroke="#E8CC48" stroke-width="1.8" stroke-linecap="round"/><circle cx="351.1" cy="6" r="5.4" fill="#CFE8FA" stroke="#3874C4" stroke-width="1.3"/><rect x="348.1" y="5.2" width="6" height="1.6" fill="#3470B8"/>
<rect x="350.3" y="3" width="1.6" height="6" fill="#3470B8"/>
<line x1="382.8" y1="10" x2="387.8" y2="14.8" stroke="#A88818" stroke-width="3.2" stroke-linecap="round"/><line x1="382.8" y1="10" x2="387.8" y2="14.8" stroke="#E8CC48" stroke-width="1.8" stroke-linecap="round"/><circle cx="379.0" cy="6" r="5.4" fill="#CFE8FA" stroke="#3874C4" stroke-width="1.3"/><rect x="376.0" y="5.2" width="6" height="1.6" fill="#3470B8"/>
<rect x="401.0" y="0" width="7.8" height="7.8" rx="0.9" fill="url(#gg)"/><rect x="402.05" y="3.0" width="5.8" height="4.0" fill="#FFFFFF"/><rect x="402.1" y="1.0" width="0.9" height="0.9" fill="#FFFFFF" opacity="0.9"/><rect x="403.0" y="4.1" width="3.9" height="0.9" fill="#A6D88C"/><rect x="403.1" y="6.2" width="3.7" height="0.8" fill="url(#gg)" opacity="0.85"/>
<rect x="409.2" y="0" width="7.8" height="7.8" rx="0.9" fill="url(#gb)"/><rect x="410.25" y="3.0" width="5.8" height="4.0" fill="#FFFFFF"/><rect x="410.3" y="1.0" width="0.9" height="0.9" fill="#FFFFFF" opacity="0.9"/><rect x="411.2" y="4.1" width="3.9" height="0.9" fill="#9CB4F0"/><rect x="411.3" y="6.2" width="3.7" height="0.8" fill="url(#gb)" opacity="0.85"/>
<rect x="401.0" y="8.2" width="7.8" height="7.8" rx="0.9" fill="url(#gb)"/><rect x="402.05" y="11.2" width="5.8" height="4.0" fill="#FFFFFF"/><rect x="402.1" y="9.2" width="0.9" height="0.9" fill="#FFFFFF" opacity="0.9"/><rect x="403.0" y="12.299999999999999" width="3.9" height="0.9" fill="#9CB4F0"/><rect x="403.1" y="14.399999999999999" width="3.7" height="0.8" fill="url(#gb)" opacity="0.85"/>
<rect x="409.2" y="8.2" width="7.8" height="7.8" rx="0.9" fill="url(#gg)"/><rect x="410.25" y="11.2" width="5.8" height="4.0" fill="#FFFFFF"/><rect x="410.3" y="9.2" width="0.9" height="0.9" fill="#FFFFFF" opacity="0.9"/><rect x="411.2" y="12.299999999999999" width="3.9" height="0.9" fill="#A6D88C"/><rect x="411.3" y="14.399999999999999" width="3.7" height="0.8" fill="url(#gg)" opacity="0.85"/>
<rect x="426" y="0" width="1" height="18" fill="#A0A0A0" shape-rendering="crispEdges"/>
<rect x="432" y="0" width="24" height="18" fill="#F8F8F8" shape-rendering="crispEdges"/>
<rect x="432" y="18" width="24" height="1" fill="#FFFFFF" shape-rendering="crispEdges"/>
<rect x="431" y="0" width="1" height="18" fill="#A0A0A0" shape-rendering="crispEdges"/>
<g fill="#555" shape-rendering="crispEdges"><rect x="439" y="3" width="1" height="13"/><rect x="437" y="13" width="13" height="1"/></g><polygon points="439.5,1.5 437.5,4.5 441.5,4.5" fill="#555"/><polygon points="451,13.5 448,11.5 448,15.5" fill="#555"/>
<polygon points="444.4,3.9 444.4,11.1 448.4,7.5" fill="#7CEC7C" stroke="#1E9E1E" stroke-width="0.9"/>
<rect x="460" y="0" width="24" height="18" fill="#F8F8F8" shape-rendering="crispEdges"/>
<rect x="460" y="18" width="24" height="1" fill="#FFFFFF" shape-rendering="crispEdges"/>
<rect x="459" y="0" width="1" height="18" fill="#A0A0A0" shape-rendering="crispEdges"/>
<g fill="#555" shape-rendering="crispEdges"><rect x="467" y="3" width="1" height="13"/><rect x="465" y="13" width="13" height="1"/></g><polygon points="467.5,1.5 465.5,4.5 469.5,4.5" fill="#555"/><polygon points="479,13.5 476,11.5 476,15.5" fill="#555"/>
<rect x="473" y="2" width="1" height="10" fill="#1C6CB8" shape-rendering="crispEdges"/><polygon points="474.3,7.5 477.4,4.9 477.0,6.9 479.2,6.9 479.2,8.1 477.0,8.1 477.4,10.1" fill="#D43C0C"/>
<rect x="487" y="0" width="1" height="20" fill="#A0A0A0" shape-rendering="crispEdges"/>
<rect x="488" y="0" width="1" height="20" fill="#FFFFFF" shape-rendering="crispEdges"/>
<path d="M498.4,0.6 h7.4 l3.4,3.4 v9.2 h-10.8 z" fill="#FFFFFF" stroke="#8C8C8C" stroke-width="1"/><path d="M505.8,0.6 v3.4 h3.4" fill="#E4E4E4" stroke="#8C8C8C" stroke-width="0.8"/><path d="M502.4,3 q-1.4,0 -1.4,1.4 v5 m1.6,-3 h-3" fill="none" stroke="#707070" stroke-width="0.8"/>
<polygon points="506.3,5.9 509.7,5.9 509.7,9.9 513.7,9.9 513.7,13.3 509.7,13.3 509.7,17.3 506.3,17.3 506.3,13.3 502.3,13.3 502.3,9.9 506.3,9.9" fill="url(#gp)" stroke="#0B8A0B" stroke-width="0.8"/>
<polygon points="519.7,7 525.7,7 522.7,10.2" fill="#000"/>
<circle cx="543.8" cy="7.6" r="6.7" fill="#FFFFFF" stroke="url(#gk)" stroke-width="2.7"/><circle cx="543.8" cy="7.6" r="5.2" fill="#F4F8FF" stroke="#A8C8F4" stroke-width="0.7"/><g fill="#8090A8"><rect x="543.4" y="3" width="0.8" height="1.1"/><rect x="543.4" y="11.1" width="0.8" height="1.1"/><rect x="539.2" y="7.2" width="1.1" height="0.8"/><rect x="547.3" y="7.2" width="1.1" height="0.8"/></g><path d="M543.6,4.2 v3.8 h2.8" fill="none" stroke="#202020" stroke-width="1.2"/><rect x="542.6" y="-0.6" width="2.4" height="1.2" fill="#1458C8"/>
<polygon points="558.7,7 564.7,7 561.7,10.2" fill="#000"/>
<rect x="575.4" y="1.2" width="15.4" height="13.2" fill="#FFFFFF" stroke="#3C78D0" stroke-width="1.1"/><rect x="575.4" y="1.2" width="15.4" height="2.4" fill="#5C9CE8"/><rect x="576" y="8.6" width="14.2" height="0.9" fill="#5C9CE8"/><polyline points="577,7.4 579.6,6.2 581.4,6.6 583.4,5.2 585.6,6.2 588.8,4.8" fill="none" stroke="#A82818" stroke-width="1"/><polyline points="577.6,12.8 580,11.6 582,12.4 584.6,10.4 586.4,11 588.6,12.6" fill="none" stroke="#209820" stroke-width="1"/>
<polygon points="597.7,7 603.7,7 600.7,10.2" fill="#000"/>
<rect x="609" y="0" width="1" height="20" fill="#A0A0A0" shape-rendering="crispEdges"/>
<rect x="610" y="0" width="1" height="20" fill="#FFFFFF" shape-rendering="crispEdges"/>
<rect x="613" y="0" width="3" height="1" fill="#A4A4A4" shape-rendering="crispEdges"/>
<rect x="613" y="1" width="3" height="1" fill="#F8F8F8" shape-rendering="crispEdges"/>
<rect x="613" y="2" width="3" height="1" fill="#A4A4A4" shape-rendering="crispEdges"/>
<rect x="613" y="3" width="3" height="1" fill="#F8F8F8" shape-rendering="crispEdges"/>
<rect x="613" y="4" width="3" height="1" fill="#A4A4A4" shape-rendering="crispEdges"/>
<rect x="613" y="5" width="3" height="1" fill="#F8F8F8" shape-rendering="crispEdges"/>
<rect x="613" y="6" width="3" height="1" fill="#A4A4A4" shape-rendering="crispEdges"/>
<rect x="613" y="7" width="3" height="1" fill="#F8F8F8" shape-rendering="crispEdges"/>
<rect x="613" y="8" width="3" height="1" fill="#A4A4A4" shape-rendering="crispEdges"/>
<rect x="613" y="9" width="3" height="1" fill="#F8F8F8" shape-rendering="crispEdges"/>
<rect x="613" y="10" width="3" height="1" fill="#A4A4A4" shape-rendering="crispEdges"/>
<rect x="613" y="11" width="3" height="1" fill="#F8F8F8" shape-rendering="crispEdges"/>
<rect x="613" y="12" width="3" height="1" fill="#A4A4A4" shape-rendering="crispEdges"/>
<rect x="613" y="13" width="3" height="1" fill="#F8F8F8" shape-rendering="crispEdges"/>
<rect x="613" y="14" width="3" height="1" fill="#A4A4A4" shape-rendering="crispEdges"/>
<rect x="613" y="15" width="3" height="1" fill="#F8F8F8" shape-rendering="crispEdges"/>
<rect x="613" y="16" width="3" height="1" fill="#A4A4A4" shape-rendering="crispEdges"/>
<rect x="613" y="17" width="3" height="1" fill="#F8F8F8" shape-rendering="crispEdges"/>
<rect x="620" y="0" width="24" height="18" fill="#F8F8F8" shape-rendering="crispEdges"/>
<rect x="620" y="18" width="24" height="1" fill="#FFFFFF" shape-rendering="crispEdges"/>
<rect x="619" y="0" width="1" height="18" fill="#A0A0A0" shape-rendering="crispEdges"/>
<polygon points="627.3,1.2 627.3,12.2 629.9,9.8 632.2,14.8 634,14 631.8,9.2 635.4,9" fill="#505050"/>
<g fill="#484848" shape-rendering="crispEdges"><rect x="659" y="1" width="1" height="6"/><rect x="659" y="10" width="1" height="6"/><rect x="652" y="8" width="6" height="1"/><rect x="661" y="8" width="6" height="1"/><rect x="659" y="8" width="1" height="1" fill="#909090"/></g>
<rect x="676" y="0" width="1" height="18" fill="#A0A0A0" shape-rendering="crispEdges"/>
<rect x="693" y="2" width="1" height="13" fill="#404040" shape-rendering="crispEdges"/><rect x="716" y="8" width="12" height="1" fill="#404040" shape-rendering="crispEdges"/><line x1="744" y1="14.8" x2="756" y2="2.8" stroke="#484848" stroke-width="1.1"/>
<g stroke="#484848" stroke-width="0.9" fill="none"><line x1="769.6" y1="9.6" x2="779.4" y2="1.4"/><line x1="772" y1="12.4" x2="783" y2="3"/><line x1="774.6" y1="14.6" x2="784.6" y2="6"/><line x1="772.6" y1="6" x2="772" y2="13.6"/><line x1="775.4" y1="4" x2="775" y2="12.4"/><line x1="778.4" y1="2" x2="778" y2="10.4"/><line x1="781.6" y1="0" x2="781" y2="7.6"/></g>
<text x="780.4" y="16.4" style="font-size:7.4px;font-weight:bold;fill:#404040">E</text>
<g stroke="#505050" stroke-width="1" stroke-dasharray="1 1" shape-rendering="crispEdges"><line x1="799" y1="1.5" x2="812" y2="1.5"/><line x1="799" y1="4.5" x2="812" y2="4.5"/><line x1="799" y1="8.5" x2="812" y2="8.5"/><line x1="799" y1="12.5" x2="808" y2="12.5"/></g>
<text x="808.6" y="16.4" style="font-size:7.4px;font-weight:bold;fill:#404040">F</text>
<text x="829.4" y="12.8" style="font-size:12.2px;font-weight:bold;fill:#555">A</text>
<rect x="856" y="2" width="11.6" height="12.4" fill="none" stroke="#505050" stroke-width="1" stroke-dasharray="1 1.06"/><g fill="#555" shape-rendering="crispEdges"><rect x="858" y="5" width="8" height="2"/><rect x="861" y="5" width="2" height="8"/></g>
<polygon points="883.4,5 887,1.6 890.6,5 887,6.6" fill="#505050"/><polygon points="890,12 893.6,10.4 897.2,12 893.6,15" fill="#505050"/><polyline points="885.6,8.6 887.4,10.6 892,5.6" fill="none" stroke="#505050" stroke-width="1.3"/>
<polygon points="903.6,7 909.6,7 906.6,10.2" fill="#000"/>
<rect x="915" y="0" width="1" height="20" fill="#A0A0A0" shape-rendering="crispEdges"/>
<rect x="916" y="0" width="1" height="20" fill="#FFFFFF" shape-rendering="crispEdges"/>
<rect x="919" y="0" width="3" height="1" fill="#A4A4A4" shape-rendering="crispEdges"/>
<rect x="919" y="1" width="3" height="1" fill="#F8F8F8" shape-rendering="crispEdges"/>
<rect x="919" y="2" width="3" height="1" fill="#A4A4A4" shape-rendering="crispEdges"/>
<rect x="919" y="3" width="3" height="1" fill="#F8F8F8" shape-rendering="crispEdges"/>
<rect x="919" y="4" width="3" height="1" fill="#A4A4A4" shape-rendering="crispEdges"/>
<rect x="919" y="5" width="3" height="1" fill="#F8F8F8" shape-rendering="crispEdges"/>
<rect x="919" y="6" width="3" height="1" fill="#A4A4A4" shape-rendering="crispEdges"/>
<rect x="919" y="7" width="3" height="1" fill="#F8F8F8" shape-rendering="crispEdges"/>
<rect x="919" y="8" width="3" height="1" fill="#A4A4A4" shape-rendering="crispEdges"/>
<rect x="919" y="9" width="3" height="1" fill="#F8F8F8" shape-rendering="crispEdges"/>
<rect x="919" y="10" width="3" height="1" fill="#A4A4A4" shape-rendering="crispEdges"/>
<rect x="919" y="11" width="3" height="1" fill="#F8F8F8" shape-rendering="crispEdges"/>
<rect x="919" y="12" width="3" height="1" fill="#A4A4A4" shape-rendering="crispEdges"/>
<rect x="919" y="13" width="3" height="1" fill="#F8F8F8" shape-rendering="crispEdges"/>
<rect x="919" y="14" width="3" height="1" fill="#A4A4A4" shape-rendering="crispEdges"/>
<rect x="919" y="15" width="3" height="1" fill="#F8F8F8" shape-rendering="crispEdges"/>
<rect x="919" y="16" width="3" height="1" fill="#A4A4A4" shape-rendering="crispEdges"/>
<rect x="919" y="17" width="3" height="1" fill="#F8F8F8" shape-rendering="crispEdges"/>
<rect x="1066" y="0" width="25" height="18" fill="#F8F8F8" shape-rendering="crispEdges"/>
<rect x="1066" y="18" width="25" height="1" fill="#FFFFFF" shape-rendering="crispEdges"/>
<rect x="1065" y="0" width="1" height="18" fill="#A0A0A0" shape-rendering="crispEdges"/>
<text class="tf" x="937" y="12.1" text-anchor="middle">M1</text>
<text class="tf" x="965" y="12.1" text-anchor="middle">M5</text>
<text class="tf" x="993" y="12.1" text-anchor="middle">M15</text>
<text class="tf" x="1021" y="12.1" text-anchor="middle">M30</text>
<text class="tf" x="1049" y="12.1" text-anchor="middle">H1</text>
<text class="tf" x="1077" y="12.1" text-anchor="middle">H4</text>
<text class="tf" x="1105" y="12.1" text-anchor="middle">D1</text>
<text class="tf" x="1133.3" y="12.1" text-anchor="middle">W1</text>
<text class="tf" x="1161.3" y="12.1" text-anchor="middle">MN</text>
<rect x="1176" y="0" width="1" height="18" fill="#A0A0A0" shape-rendering="crispEdges"/>
<line x1="1639.4" y1="12.4" x2="1643.6" y2="8.4" stroke="#2C5CC8" stroke-width="2.2" stroke-linecap="round"/><circle cx="1646.7" cy="5.4" r="3.9" fill="#F4F6FF" stroke="#2C5CC8" stroke-width="1.3"/>
<path d="M1665,14 q-2,-0.8 -2,-3.8 q0,-4.6 6,-4.6 q6,0 6,4.4 q0,4 -5.6,4.2 l-2.6,0 l-1.8,2.2 z" fill="#E4E6EC" stroke="#B0B0B4" stroke-width="0.8"/><circle cx="1677.4" cy="5.2" r="8.2" fill="url(#grd)"/>
<text x="1677.2" y="10" text-anchor="middle" style="font-size:12.2px;fill:#fff">1</text>
</g>
</svg></body></html>
